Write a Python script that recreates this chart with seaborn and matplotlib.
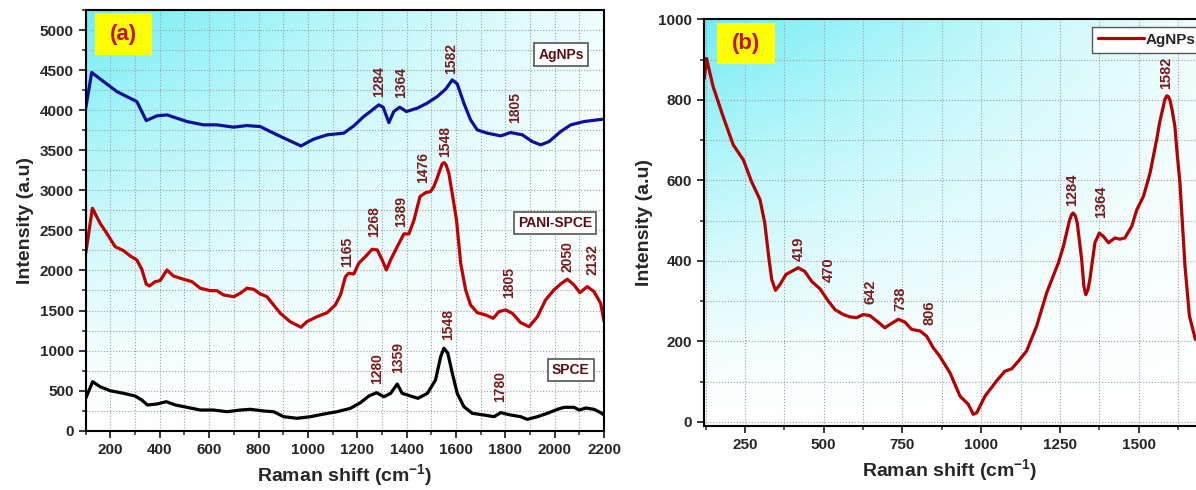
import numpy as np
import pandas as pd
import matplotlib
matplotlib.use("Agg")
import matplotlib.pyplot as plt
import seaborn as sns
from matplotlib.patches import Rectangle
from matplotlib.ticker import MultipleLocator

# ---------------- data ----------------
# Panel (a): AgNPs (blue)
agnp_a_x = [100, 124, 226, 307, 327, 345, 388, 429, 510, 577, 631, 699, 753, 807, 875, 942, 972,
            1023, 1078, 1145, 1186, 1226, 1253, 1287, 1305, 1328, 1348, 1372, 1399, 1443, 1483,
            1524, 1558, 1585, 1605, 1632, 1659, 1686, 1727, 1781, 1821, 1869, 1909, 1943, 1977,
            2024, 2065, 2119, 2173, 2200]
agnp_a_y = [4025, 4470, 4232, 4107, 3983, 3870, 3929, 3941, 3858, 3817, 3817, 3788, 3808, 3795,
            3692, 3596, 3554, 3638, 3692, 3713, 3804, 3920, 3983, 4066, 4037, 3845, 3983, 4037,
            3983, 4025, 4087, 4170, 4262, 4378, 4328, 4087, 3879, 3754, 3713, 3679, 3721, 3692,
            3608, 3567, 3608, 3733, 3817, 3858, 3879, 3888]

# Panel (a): PANI-SPCE (red)
pani_x = [100, 127, 158, 185, 219, 253, 280, 307, 327, 345, 358, 381, 401, 429, 455, 496, 530,
          564, 605, 631, 658, 699, 726, 753, 780, 807, 834, 861, 888, 928, 972, 996, 1037, 1078,
          1111, 1132, 1152, 1165, 1186, 1206, 1233, 1260, 1281, 1301, 1318, 1335, 1362, 1389,
          1409, 1430, 1454, 1477, 1497, 1510, 1521, 1544, 1551, 1560, 1571, 1589, 1602, 1619,
          1639, 1659, 1686, 1720, 1751, 1774, 1801, 1828, 1862, 1896, 1930, 1963, 1997, 2024,
          2051, 2078, 2102, 2132, 2159, 2186, 2200]
pani_y = [2215, 2776, 2589, 2464, 2297, 2247, 2181, 2131, 2015, 1831, 1806, 1860, 1873, 2006,
          1931, 1890, 1860, 1778, 1748, 1748, 1694, 1673, 1715, 1778, 1765, 1707, 1673, 1569,
          1466, 1361, 1291, 1361, 1423, 1473, 1569, 1694, 1923, 1965, 1956, 2090, 2172, 2264,
          2256, 2131, 2006, 2131, 2297, 2456, 2456, 2630, 2921, 2971, 2984, 3046, 3130, 3330,
          3346, 3317, 3213, 2880, 2630, 2090, 1757, 1569, 1473, 1444, 1403, 1486, 1507, 1466,
          1348, 1298, 1423, 1632, 1757, 1831, 1890, 1819, 1723, 1798, 1736, 1590, 1361]

# Panel (a): SPCE (black)
spce_x = [100, 128, 158, 199, 253, 300, 327, 350, 388, 426, 463, 510, 564, 618, 672, 726, 767,
          821, 861, 902, 956, 1010, 1064, 1118, 1145, 1172, 1213, 1247, 1278, 1308, 1335, 1362,
          1382, 1416, 1446, 1484, 1517, 1538, 1551, 1567, 1585, 1605, 1632, 1666, 1713, 1754,
          1781, 1821, 1862, 1889, 1930, 1970, 2011, 2038, 2078, 2099, 2126, 2159, 2186, 2200]
spce_y = [404, 612, 549, 499, 467, 433, 383, 321, 333, 362, 321, 292, 258, 258, 237, 258, 267,
          246, 237, 175, 155, 175, 208, 237, 258, 279, 350, 433, 474, 424, 466, 583, 466, 433,
          404, 466, 633, 924, 1029, 966, 717, 466, 300, 217, 196, 175, 225, 196, 175, 142, 175,
          217, 267, 292, 292, 258, 283, 267, 225, 196]

# Panel (b): AgNPs (red)
agnp_b_x = [121, 128, 149, 181, 213, 245, 271, 298, 313, 324, 335, 347, 361, 380, 398, 419, 440,
            462, 488, 515, 536, 562, 583, 605, 626, 647, 673, 694, 716, 737, 758, 779, 806, 827,
            848, 867, 901, 933, 959, 975, 986, 1012, 1049, 1075, 1097, 1118, 1144, 1176, 1208,
            1245, 1261, 1276, 1281, 1287, 1292, 1299, 1305, 1319, 1326, 1332, 1339, 1345, 1361,
            1375, 1388, 1404, 1425, 1440, 1456, 1478, 1494, 1515, 1536, 1557, 1567, 1578, 1583,
            1589, 1594, 1599, 1606, 1615, 1621, 1631, 1647, 1661, 1680]
agnp_b_y = [853, 903, 833, 758, 688, 651, 597, 552, 494, 420, 354, 327, 341, 366, 374, 383, 374,
            349, 331, 300, 279, 267, 261, 259, 267, 264, 248, 234, 245, 255, 248, 230, 226, 213,
            184, 165, 122, 64, 44, 19, 23, 64, 102, 126, 132, 151, 176, 238, 321, 395, 436, 486,
            502, 515, 519, 512, 494, 403, 337, 316, 329, 354, 445, 469, 461, 445, 457, 454, 457,
            486, 527, 560, 618, 701, 746, 783, 801, 810, 808, 800, 775, 734, 676, 593, 387, 263,
            205]

# peak labels: (text, x, y)
peaks_a_blue = [("1284", 1287, 4170), ("1364", 1376, 4150), ("1582", 1579, 4453), ("1805", 1839, 3838)]
peaks_a_red = [("1165", 1159, 2040), ("1268", 1267, 2422), ("1389", 1376, 2547), ("1476", 1466, 3089),
               ("1548", 1555, 3421), ("1805", 1815, 1653), ("2050", 2051, 1985), ("2132", 2153, 1944)]
peaks_a_black = [("1280", 1280, 583), ("1359", 1366, 716), ("1548", 1568, 1132), ("1780", 1780, 362)]
peaks_b = [("419", 421, 399), ("470", 517, 347), ("642", 649, 292), ("738", 742, 275),
           ("806", 837, 242), ("1284", 1290, 537), ("1364", 1382, 507), ("1582", 1586, 826)]

# ---------------- styling ----------------
sns.set_theme(style="ticks")
plt.rcParams["font.family"] = ["Liberation Sans", "DejaVu Sans"]
plt.rcParams["mathtext.fontset"] = "custom"
plt.rcParams["mathtext.rm"] = "Liberation Sans:bold"
plt.rcParams["mathtext.bf"] = "Liberation Sans:bold"
plt.rcParams["mathtext.default"] = "bf"

ANN = "#7a1a1a"
fig = plt.figure(figsize=(11.96, 4.9), dpi=100)
axA = fig.add_axes([0.0717, 0.1210, 0.4334, 0.8586])
axB = fig.add_axes([0.5886, 0.1306, 0.4267, 0.8300])


def gradient(ax):
    ny, nx = 200, 300
    u = np.linspace(0, 1, nx)[None, :]
    v = np.linspace(0, 1, ny)[:, None]
    t = (1 - 0.85 * u) ** 1.2 * (1 - v) ** 1.4
    cyan = np.array([0.44, 0.93, 0.96])
    img = 1 - t[..., None] * (1 - cyan)
    ax.imshow(img, extent=[0, 1, 0, 1], transform=ax.transAxes, aspect="auto",
              zorder=0, origin="upper", interpolation="bilinear")


def style(ax, xmaj, xmin, ymaj, ymin):
    ax.xaxis.set_major_locator(MultipleLocator(xmaj))
    ax.xaxis.set_minor_locator(MultipleLocator(xmin))
    ax.yaxis.set_major_locator(MultipleLocator(ymaj))
    ax.yaxis.set_minor_locator(MultipleLocator(ymin))
    ax.grid(True, which="both", linestyle=":", color="#a0a0a0", linewidth=0.8)
    ax.set_axisbelow(True)
    ax.tick_params(which="major", direction="out", length=5, width=1.3, labelsize=11,
                   top=False, right=False)
    ax.tick_params(which="minor", direction="out", length=3, width=1.1, top=False, right=False)
    for lab in ax.get_xticklabels() + ax.get_yticklabels():
        lab.set_fontweight("bold")
    for s in ax.spines.values():
        s.set_linewidth(1.5)
        s.set_color("black")
        s.set_zorder(5)
    ax.set_xlabel("Raman shift (cm$^{-1}$)", fontsize=14, fontweight="bold", labelpad=4)
    ax.set_ylabel("Intensity (a.u)", fontsize=14, fontweight="bold", labelpad=4)


# ---------------- panel (a) ----------------
gradient(axA)
dfa1 = pd.DataFrame({"x": agnp_a_x, "y": agnp_a_y})
dfa2 = pd.DataFrame({"x": pani_x, "y": pani_y})
dfa3 = pd.DataFrame({"x": spce_x, "y": spce_y})
kw = dict(solid_joinstyle="round", solid_capstyle="round", zorder=3)
sns.lineplot(data=dfa1, x="x", y="y", ax=axA, color="#10109a", linewidth=2.3, **kw)
sns.lineplot(data=dfa2, x="x", y="y", ax=axA, color="#c00000", linewidth=2.3, **kw)
sns.lineplot(data=dfa3, x="x", y="y", ax=axA, color="black", linewidth=2.3, **kw)
axA.set_xlim(100, 2200)
axA.set_ylim(0, 5250)
style(axA, 200, 100, 500, 250)

for group in (peaks_a_blue, peaks_a_red, peaks_a_black):
    for txt, px, py in group:
        axA.text(px, py, txt, rotation=90, ha="center", va="bottom", fontsize=10,
                 fontweight="bold", color=ANN, zorder=4)

axA.add_patch(Rectangle((0.018, 0.893), 0.110, 0.099, transform=axA.transAxes,
                        facecolor="#ffff00", edgecolor="none", zorder=4))
axA.text(0.073, 0.9425, "(a)", transform=axA.transAxes, ha="center", va="center",
         fontsize=16, fontweight="bold", color="#c8102e", zorder=5)

box = dict(boxstyle="square,pad=0.3", facecolor="white", edgecolor="#555555", linewidth=1.2)
axA.text(0.917, 0.894, "AgNPs", transform=axA.transAxes, ha="center", va="center",
         fontsize=10, fontweight="bold", color="#5a1010", bbox=box, zorder=5)
axA.text(0.905, 0.4937, "PANI-SPCE", transform=axA.transAxes, ha="center", va="center",
         fontsize=10, fontweight="bold", color="#5a1010", bbox=box, zorder=5)
axA.text(0.936, 0.1443, "SPCE", transform=axA.transAxes, ha="center", va="center",
         fontsize=10, fontweight="bold", color="#5a1010", bbox=box, zorder=5)

# ---------------- panel (b) ----------------
gradient(axB)
dfb = pd.DataFrame({"x": agnp_b_x, "y": agnp_b_y})
sns.lineplot(data=dfb, x="x", y="y", ax=axB, color="#b30000", linewidth=2.3,
             label="AgNPs", **kw)
axB.set_xlim(120, 1740)
axB.set_ylim(-10, 1000)
style(axB, 250, 125, 200, 100)
axB.xaxis.label.set_x(0.482)
axB.spines["right"].set_visible(False)
for txt, px, py in peaks_b:
    axB.text(px, py, txt, rotation=90, ha="center", va="bottom", fontsize=10.5,
             fontweight="bold", color=ANN, zorder=4)

axB.add_patch(Rectangle((0.0255, 0.8894), 0.1137, 0.1022, transform=axB.transAxes,
                        facecolor="#ffff00", edgecolor="none", zorder=4))
axB.text(0.0824, 0.9405, "(b)", transform=axB.transAxes, ha="center", va="center",
         fontsize=16, fontweight="bold", color="#c8102e", zorder=5)

leg = axB.legend(loc="upper right", bbox_to_anchor=(0.976, 0.982), borderaxespad=0,
                 frameon=True, fancybox=False, handlelength=3.0, handletextpad=0.15,
                 prop={"weight": "bold", "size": 11})
leg.get_frame().set_edgecolor("#555555")
leg.get_frame().set_linewidth(1.0)
leg.get_frame().set_alpha(1)

fig.savefig("out.png", dpi=100)
